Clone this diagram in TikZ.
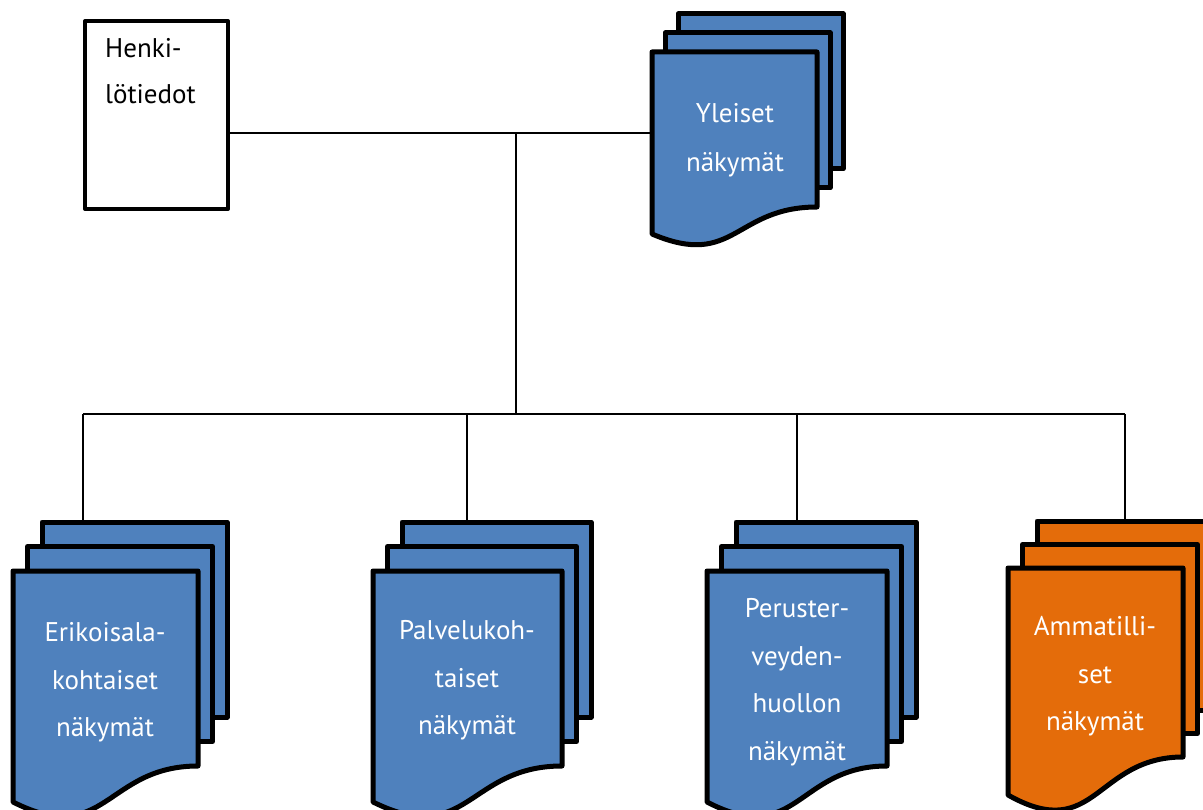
\documentclass[tikz,border=0pt]{standalone}
\usepackage{fontspec}
\setmainfont{PT Sans}
\usetikzlibrary{calc,backgrounds}
\definecolor{docblue}{RGB}{79,129,189}
\definecolor{docorange}{RGB}{228,108,10}

\tikzset{
  link/.style={draw=black, line width=1.6pt},
  sheet/.style={rectangle, draw=black, line width=5pt, line join=round,
    inner sep=0pt, outer sep=0pt, anchor=north west},
  frontpage/.style={rectangle, inner sep=0pt, outer sep=0pt, anchor=north west},
  doctext/.style={text=white, align=center, inner sep=0pt, anchor=north},
  boxtext/.style={text=black, align=left, inner sep=0pt, anchor=north west},
}

% \multidoc{name}{left}{top}{width}{edge height}{wave depth}{dx}{dy}{colour}
% Draws a stack of three sheets; the front sheet has a wavy lower edge.
\newcommand\multidoc[9]{%
  \node[sheet, fill=#9, minimum width=#4pt, minimum height=#5pt]
    (#1-back) at ($(#2,#3)+(2*#7,2*#8)$) {};
  \node[sheet, fill=#9, minimum width=#4pt, minimum height=#5pt]
    (#1-mid) at ($(#2,#3)+(#7,#8)$) {};
  \node[frontpage, minimum width=#4pt, minimum height=#5pt] (#1) at (#2,#3) {};
  \filldraw[line width=5pt, line join=round, fill=#9]
    (#1.north west) -- (#1.north east) -- (#1.south east)
    .. controls (#1.south) and ($(#1.south)+(0,2.3*#6)$) ..
    ($(#1.south west)+(0,#6)$) -- cycle;
}

\begin{document}
\begin{tikzpicture}[x=1pt,y=-1pt]
\useasboundingbox (0,0) rectangle (1203,810);

% personal data box
\node[rectangle, draw=black, line width=4pt, line join=round, inner sep=0pt,
  minimum width=143pt, minimum height=188pt, anchor=north west] (henki) at (83,19) {};
\node[boxtext, font=\fontsize{27}{46}\selectfont] (henki-text) at (105,38)
  {Henki-\\lötiedot};

% document stacks
\multidoc{yl}{652}{52}{165}{155}{27}{13}{-19}{docblue}
\multidoc{eri}{13}{571}{185}{195}{36}{14.5}{-24.5}{docblue}
\multidoc{pal}{373}{571}{189}{195}{36}{14.5}{-24.5}{docblue}
\multidoc{per}{707}{571}{180}{195}{36}{14.5}{-24.5}{docblue}
\multidoc{amm}{1008}{568}{175}{189}{38}{14.5}{-23.5}{docorange}

% labels
\node[doctext, font=\fontsize{27}{49}\selectfont] (yl-text) at (735,103.5)
  {Yleiset\\näkymät};
\node[doctext, font=\fontsize{27}{47.5}\selectfont] (eri-text) at (105,622.5)
  {Erikoisala-\\kohtaiset\\näkymät};
\node[doctext, font=\fontsize{27}{47.5}\selectfont] (pal-text) at (467,620.5)
  {Palvelukoh-\\taiset\\näkymät};
\node[doctext, font=\fontsize{27}{47.5}\selectfont] (per-text) at (797,598.5)
  {Peruster-\\veyden-\\huollon\\näkymät};
\node[doctext, font=\fontsize{27}{47.5}\selectfont] (amm-text) at (1095,616.5)
  {Ammatilli-\\set\\näkymät};

% tree of connectors
\coordinate (hub) at (516,133);
\coordinate (bus) at (516,414);
\coordinate (t1) at (83,414);
\coordinate (t2) at (467,414);
\coordinate (t3) at (797,414);
\coordinate (t4) at (1125,414);
\begin{pgfonlayer}{background}
  \draw[link] (henki.east |- hub) -- (yl.west |- hub);
  \draw[link] (hub) -- (bus);
  \draw[link] (t1) -- (t4);
  \draw[link] (t1) -- (t1 |- eri-back.north);
  \draw[link] (t2) -- (t2 |- pal-back.north);
  \draw[link] (t3) -- (t3 |- per-back.north);
  \draw[link] (t4) -- (t4 |- amm-back.north);
\end{pgfonlayer}
\end{tikzpicture}
\end{document}
